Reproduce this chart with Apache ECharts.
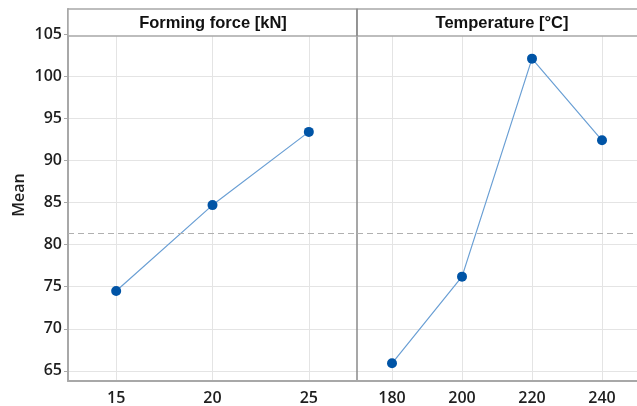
<!DOCTYPE html>
<html>
<head>
<meta charset="utf-8">
<script src="https://cdn.jsdelivr.net/npm/echarts@6/dist/echarts.min.js"></script>
<style>
  html, body { margin: 0; padding: 0; background: #fff; }
  #chart { width: 637px; height: 406px; }
</style>
</head>
<body>
<div id="chart"></div>
<script>
// main effects data
const forceLevels = [15, 20, 25];
const forceMeans = [74.5, 84.7, 93.4];
const tempLevels = [180, 200, 220, 240];
const tempMeans = [65.9, 76.2, 102.1, 92.4];
const yTicks = [65, 70, 75, 80, 85, 90, 95, 100, 105];
const grandMean = 81.4;
const panelTitles = ['Forming force [kN]', 'Temperature [°C]'];

const labelFont = { fontFamily: 'Open Sans', fontWeight: 600, fontSize: 16, color: '#1e1e1e' };
const gridColor = '#e4e4e4';

function xAxisFor(gridIndex, min, max, ticks) {
  return {
    type: 'value', gridIndex: gridIndex, min: min, max: max,
    axisLine: { show: true, lineStyle: { color: '#a8a8a8', width: 2 } },
    axisTick: { show: false, customValues: ticks },
    axisLabel: Object.assign({ customValues: ticks, margin: 9 }, labelFont),
    splitLine: { show: true, lineStyle: { color: gridColor, width: 1 } }
  };
}

function yAxisFor(gridIndex) {
  return {
    type: 'value', gridIndex: gridIndex, min: 63.8, max: 108,
    name: gridIndex === 0 ? 'Mean' : '',
    nameLocation: 'middle', nameGap: 41,
    nameTextStyle: { fontFamily: 'Open Sans', fontWeight: 600, fontSize: 16, color: '#1e1e1e' },
    axisLine: { show: true, onZero: false, lineStyle: gridIndex === 0 ? { color: '#a8a8a8', width: 2 } : { color: '#8a8a8a', width: 1.5 } },
    axisTick: { show: gridIndex === 0, length: 4, customValues: yTicks, lineStyle: { color: '#a8a8a8' } },
    axisLabel: Object.assign({ show: gridIndex === 0, customValues: yTicks, margin: 6 }, labelFont),
    splitLine: { show: true, lineStyle: { color: gridColor, width: 1 } }
  };
}

function seriesFor(idx, xs, ys) {
  return {
    type: 'line', xAxisIndex: idx, yAxisIndex: idx,
    data: xs.map((x, i) => [x, ys[i]]),
    symbol: 'circle', symbolSize: 10,
    itemStyle: { color: '#0054a6' },
    lineStyle: { color: '#6a9fd4', width: 1.2 },
    animation: false,
    markLine: {
      silent: true, symbol: 'none', label: { show: false },
      lineStyle: { color: '#b0b0b0', type: [6, 4], width: 1.2 },
      data: [{ yAxis: grandMean }]
    }
  };
}

const chart = echarts.init(document.getElementById('chart'));
chart.setOption({
  animation: false,
  grid: [
    { left: 68, top: 9, width: 289, height: 372 },
    { left: 357, top: 9, width: 290, height: 372 }
  ],
  xAxis: [
    xAxisFor(0, 12.5, 27.5, forceLevels),
    xAxisFor(1, 170, 250, tempLevels)
  ],
  yAxis: [yAxisFor(0), yAxisFor(1)],
  series: [
    seriesFor(0, forceLevels, forceMeans),
    seriesFor(1, tempLevels, tempMeans)
  ],
  graphic: [
    { type: 'rect', z: 100, shape: { x: 68, y: 9, width: 289, height: 27 },
      style: { fill: '#fff', stroke: '#a8a8a8', lineWidth: 1.5 } },
    { type: 'rect', z: 100, shape: { x: 357, y: 9, width: 290, height: 27 },
      style: { fill: '#fff', stroke: '#a8a8a8', lineWidth: 1.5 } },
    { type: 'line', z: 101, shape: { x1: 357, y1: 9, x2: 357, y2: 36 },
      style: { stroke: '#8a8a8a', lineWidth: 1.5 } },
    { type: 'text', z: 102, x: 213, y: 23,
      style: { text: panelTitles[0], fontFamily: 'Liberation Sans', fontWeight: 'bold', fontSize: 16.5,
               fill: '#111', align: 'center', verticalAlign: 'middle' } },
    { type: 'text', z: 102, x: 502, y: 23,
      style: { text: panelTitles[1], fontFamily: 'Liberation Sans', fontWeight: 'bold', fontSize: 16.5,
               fill: '#111', align: 'center', verticalAlign: 'middle' } }
  ]
});
</script>
</body>
</html>
